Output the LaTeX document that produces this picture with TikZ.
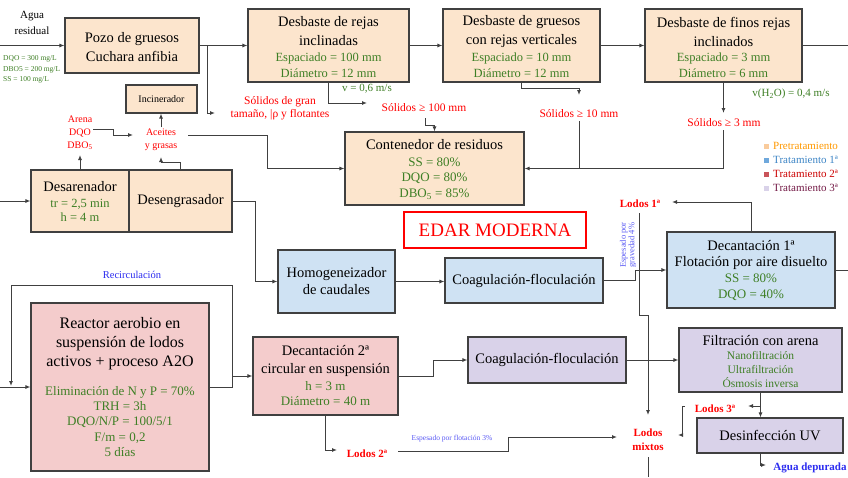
\documentclass[tikz,border=0pt]{standalone}
\usepackage{fontspec}
\setmainfont{Liberation Serif}
\usetikzlibrary{arrows.meta}
\definecolor{peach}{HTML}{FCE5CD}
\definecolor{lblue}{HTML}{CFE2F3}
\definecolor{lpink}{HTML}{F4CCCC}
\definecolor{lpurp}{HTML}{D9D2E9}
\definecolor{bord}{HTML}{404040}
\definecolor{grn}{HTML}{3E7F25}
\definecolor{redA}{HTML}{FF0000}
\definecolor{bluA}{HTML}{2B2BF0}
\definecolor{bluB}{HTML}{5A5AF5}
\definecolor{lgO}{HTML}{FF9900}
\definecolor{lgB}{HTML}{3D85C6}
\definecolor{lgR}{HTML}{CC0000}
\definecolor{lgP}{HTML}{741B47}
\definecolor{sqO}{HTML}{F9CB9C}
\definecolor{sqB}{HTML}{6FA8DC}
\definecolor{sqR}{HTML}{C9545A}
\definecolor{sqP}{HTML}{D9D2E9}
\newcommand{\myfs}[2]{\fontsize{#1}{#2}\selectfont}
\begin{document}
\begin{tikzpicture}[x=1pt,y=-1pt,
  box/.style={draw=bord, line width=1.1pt, inner sep=0pt, rectangle},
  arr/.style={draw=bord, line width=1pt, -{Latex[length=5pt,width=4pt]}},
  ln/.style={draw=bord, line width=1pt},
  ttl/.style={font=\myfs{14.5}{19}, align=center, inner sep=0pt},
  gtx/.style={text=grn, font=\myfs{12.5}{16}, align=center, inner sep=0pt},
  rlab/.style={text=redA, font=\myfs{11.5}{13}, align=center, inner sep=0pt},
  lodos/.style={text=redA, font=\bfseries\myfs{11}{14}, align=center, inner sep=0pt},
  lgt/.style={anchor=west, font=\myfs{11}{13}, inner sep=0pt},
  lgs/.style={minimum size=5pt, inner sep=0pt}]
\useasboundingbox (0,0) rectangle (848,477);
\fill[white] (0,0) rectangle (848,477);

% ---------- boxes ----------
\node[box, fill=peach, minimum width=134pt, minimum height=55pt] (pozo) at (132,45.5) {};
\node[box, fill=peach, minimum width=161pt, minimum height=73pt] (rejas) at (328.5,45.5) {};
\node[box, fill=peach, minimum width=157pt, minimum height=73pt] (grue) at (521.5,45.5) {};
\node[box, fill=peach, minimum width=157pt, minimum height=73pt] (finos) at (723.5,45.5) {};
\node[box, fill=peach, minimum width=71pt, minimum height=28pt, font=\myfs{10}{12}] (incin) at (161.5,99) {Incinerador};
\node[box, fill=peach, minimum width=98pt, minimum height=62pt] (desar) at (80,201) {};
\node[box, fill=peach, minimum width=103pt, minimum height=62pt, font=\myfs{14.5}{19}] (deseng) at (180.5,201) {Desengrasador};
\node[box, fill=peach, minimum width=179pt, minimum height=73pt] (cont) at (434.5,168.5) {};
\node[draw=redA, line width=2.5pt, fill=white, minimum width=182pt, minimum height=36pt, inner sep=0pt, text=redA, font=\myfs{19}{22}] (edar) at (495,230) {EDAR MODERNA};
\node[box, fill=lblue, minimum width=117pt, minimum height=63pt] (homog) at (336.5,281.5) {};
\node[box, fill=lblue, minimum width=158pt, minimum height=45pt, font=\myfs{14.5}{19}] (coag1) at (524,280.5) {Coagulación-floculación};
\node[box, fill=lblue, minimum width=168pt, minimum height=76pt] (dec1) at (751,270) {};
\node[box, fill=lpink, minimum width=178pt, minimum height=168pt] (reactor) at (120,387) {};
\node[box, fill=lpink, minimum width=145pt, minimum height=78pt] (dec2) at (325.5,376) {};
\node[box, fill=lpurp, minimum width=158pt, minimum height=46pt, font=\myfs{14.5}{19}] (coag2) at (547,360) {Coagulación-floculación};
\node[box, fill=lpurp, minimum width=163pt, minimum height=64pt] (filt) at (760.5,360) {};
\node[box, fill=lpurp, minimum width=146pt, minimum height=35pt, font=\myfs{14.5}{19}] (uv) at (770,435.5) {Desinfección UV};

% ---------- box texts ----------
\node[ttl] (pozoT) at (132,47) {Pozo de gruesos\\Cuchara anfibia};
\node[ttl] (rejasT) at (328.5,31.5) {Desbaste de rejas\\inclinadas};
\node[gtx] (rejasG) at (328.5,65) {Espaciado = 100 mm\\Diámetro = 12 mm};
\node[ttl] (grueT) at (521.5,31.5) {Desbaste de gruesos\\con rejas verticales};
\node[gtx] (grueG) at (521.5,65) {Espaciado = 10 mm\\Diámetro = 12 mm};
\node[ttl] (finosT) at (723.5,31.5) {Desbaste de finos rejas\\inclinados};
\node[gtx] (finosG) at (723.5,65) {Espaciado = 3 mm\\Diámetro = 6 mm};
\node[ttl] (desarT) at (80,187) {Desarenador};
\node[gtx, font=\myfs{12.5}{14}] (desarG) at (80,210) {tr = 2,5 min\\h = 4 m};
\node[ttl] (contT) at (434.5,145) {Contenedor de residuos};
\node[gtx, font=\myfs{13}{15.5}] (contG) at (434.5,178.5) {SS = 80\%\\DQO = 80\%\\DBO\textsubscript{5} = 85\%};
\node[ttl, font=\myfs{14.5}{17}] (homogT) at (336.5,281.5) {Homogeneizador\\de caudales};
\node[ttl, font=\myfs{14.5}{16}] (dec1T) at (751,255) {Decantación 1ª\\Flotación por aire disuelto};
\node[gtx, font=\myfs{13}{16}] (dec1G) at (751,287) {SS = 80\%\\DQO = 40\%};
\node[ttl, font=\myfs{16}{19}] (reacT) at (120,344) {Reactor aerobio en\\suspensión de lodos\\activos + proceso A2O};
\node[gtx, font=\myfs{13}{15.2}] (reacG) at (120,421.5) {Eliminación de N y P = 70\%\\TRH = 3h\\DQO/N/P = 100/5/1\\F/m = 0,2\\5 días};
\node[ttl, font=\myfs{14.5}{18}] (dec2T) at (325.5,361) {Decantación 2ª\\circular en suspensión};
\node[gtx, font=\myfs{13}{15}] (dec2G) at (325.5,393.5) {h = 3 m\\Diámetro = 40 m};
\node[ttl] (filtT) at (760.5,341) {Filtración con arena};
\node[gtx, font=\myfs{11.5}{14}] (filtG) at (760.5,369) {Nanofiltración\\Ultrafiltración\\Ósmosis inversa};

% ---------- labels ----------
\node[inner sep=0pt, align=center, font=\myfs{11}{16}] (agua) at (32,23) {Agua\\residual};
\node[anchor=west, inner sep=0pt, align=left, text=grn, font=\myfs{7.5}{10.5}] (aguaG) at (3,69.5) {DQO = 300 mg/L\\DBO5 = 200 mg/L\\SS = 100 mg/L};
\node[rlab] (sgran) at (280,108.5) {Sólidos de gran\\tamaño, |ρ y flotantes};
\node[inner sep=0pt, text=grn, font=\myfs{11}{13}] (v06) at (367,89) {v = 0,6 m/s};
\node[rlab] (s100) at (424,108) {Sólidos ≥ 100 mm};
\node[rlab] (s10) at (579,114) {Sólidos ≥ 10 mm};
\node[rlab] (s3) at (724,123) {Sólidos ≥ 3 mm};
\node[inner sep=0pt, text=grn, font=\myfs{11}{13}] (vh2o) at (791,94) {v(H\textsubscript{2}O) = 0,4 m/s};
\node[rlab, font=\myfs{10}{12.7}] (arena) at (80,133) {Arena\\DQO\\DBO\textsubscript{5}};
\node[rlab, font=\myfs{10}{13}] (aceites) at (161,139.5) {Aceites\\y grasas};
\node[inner sep=0pt, text=bluA, font=\myfs{10.5}{12}] (recir) at (132,275) {Recirculación};
\node[lodos] (l1) at (640,204) {Lodos 1ª};
\node[inner sep=0pt, align=center, rotate=90, text=bluB, font=\myfs{8.5}{8.5}] (esp1) at (628,245) {Espesado por\\gravedad 4\%};
\node[lodos] (l2) at (367,454) {Lodos 2ª};
\node[inner sep=0pt, text=bluB, font=\myfs{7.5}{9}] (esp2) at (452,439) {Espesado por flotación 3\%};
\node[lodos] (lm) at (648,440) {Lodos\\mixtos};
\node[lodos] (l3) at (715,409) {Lodos 3ª};
\node[inner sep=0pt, text=bluA, font=\bfseries\myfs{11}{13}] (agdep) at (810,468) {Agua depurada};

% ---------- legend ----------
\node[lgs, fill=sqO] (lg1) at (766,146) {};
\node[lgt, text=lgO] (lg1t) at (773,146) {Pretratamiento};
\node[lgs, fill=sqB] (lg2) at (766,160) {};
\node[lgt, text=lgB] (lg2t) at (773,160) {Tratamiento 1ª};
\node[lgs, fill=sqR] (lg3) at (766,174) {};
\node[lgt, text=lgR] (lg3t) at (773,174) {Tratamiento 2ª};
\node[lgs, fill=sqP] (lg4) at (766,188) {};
\node[lgt, text=lgP] (lg4t) at (773,188) {Tratamiento 3ª};

% ---------- coordinates ----------
\coordinate (in1) at (0,45.5);
\coordinate (b1) at (207,45.5);
\coordinate (e1) at (215,113);
\coordinate (e2) at (367,103);
\coordinate (s100b) at (425,118);
\coordinate (e3) at (579,95);
\coordinate (s10b) at (579,121);
\coordinate (e4) at (723.5,113);
\coordinate (s3b) at (723.5,130);
\coordinate (out1) at (848,45.5);
\coordinate (in2) at (0,201);
\coordinate (arb) at (80,155);
\coordinate (dq) at (93,129);
\coordinate (ac) at (133,135);
\coordinate (acb) at (161,157);
\coordinate (act) at (161,127);
\coordinate (acr) at (188,135);
\coordinate (b2) at (255,201);
\coordinate (b3) at (635,280.5);
\coordinate (out2) at (848,270);
\coordinate (l1e) at (672,202);
\coordinate (l1s) at (639,213);
\coordinate (lmn) at (648,415);
\coordinate (in3) at (0,387);
\coordinate (b4) at (232,387);
\coordinate (b5) at (232,376);
\coordinate (rc) at (11,386);
\coordinate (b6) at (433,376);
\coordinate (l2a) at (337,450);
\coordinate (l2s) at (398,451);
\coordinate (lmw) at (617,437);
\coordinate (b7) at (760.5,406);
\coordinate (l3e) at (748,406);
\coordinate (l3s) at (685,406);
\coordinate (lmr) at (678,435);
\coordinate (lmb) at (648,457);
\coordinate (bot) at (648,477);
\coordinate (uvb) at (760.5,453);
\coordinate (ad) at (766,465);

% ---------- connectors ----------
\draw[arr] (in1) -- (pozo.west);
\draw[arr] (pozo.east) -- (rejas.west);
\draw[arr] (b1) |- (e1);
\draw[arr] (rejas.east) -- (grue.west);
\draw[arr] (rejas.south) |- (e2);
\draw[arr] (s100b) -- (425,125) -| (cont.north);
\draw[arr] (grue.east) -- (finos.west);
\draw[arr] (grue.south) -- ++(0,6) -| (e3);
\draw[ln] (s10b) -- (s10b |- cont.east);
\draw[arr] (finos.south) -- (e4);
\draw[arr] (s3b) |- (cont.east);
\draw[ln] (finos.east) -- (out1);
\draw[arr] (in2) -- (desar.west);
\draw[arr] (desar.north) -- (arb);
\draw[arr] (dq) -- (113,129) |- (ac);
\draw[arr] (deseng.north) -- (180.5,162) -| (acb);
\draw[arr] (act) -- (incin.south -| act);
\draw[arr] (acr) -- (267,135) |- (cont.west);
\draw[arr] (deseng.east) -- (b2) |- (homog.west);
\draw[arr] (homog.east) -- (homog.east -| coag1.west);
\draw[arr] (coag1.east) -- (b3) |- (dec1.west);
\draw[ln] (dec1.east) -- (out2);
\draw[arr] (dec1.north) |- (l1e);
\draw[arr] (l1s) -- (639,315) -| (lmn);
\draw[arr] (in3) -- (reactor.west);
\draw[arr] (reactor.east) -- (b4) |- (dec2.west);
\draw[arr] (b5) -- (232,285) -| (rc);
\draw[arr] (dec2.east) -- (b6) |- (coag2.west);
\draw[arr] (dec2.south) |- (l2a);
\draw[arr] (l2s) -- (508,451) |- (lmw);
\draw[arr] (coag2.east) -- (coag2.east -| filt.west);
\draw[arr] (filt.south) -- (filt.south |- uv.north);
\draw[arr] (b7) -- (l3e);
\draw[arr] (l3s) -- (682,406) |- (lmr);
\draw[ln] (lmb) -- (bot);
\draw[arr] (uvb) |- (ad);
\end{tikzpicture}
\end{document}
